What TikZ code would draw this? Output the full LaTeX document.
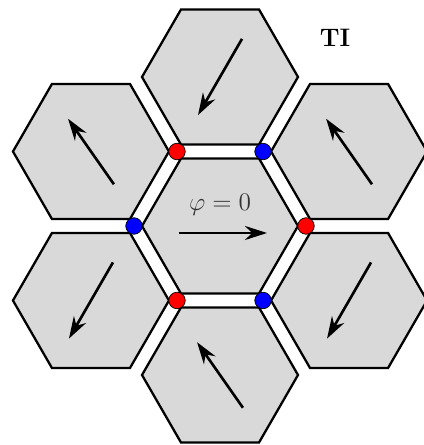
\documentclass[tikz,border=0pt]{standalone}
\usepackage{tikz}
\usetikzlibrary{shapes.geometric,arrows.meta,calc}
\definecolor{cCell}{RGB}{217,217,217}
\definecolor{cRedDot}{RGB}{255,0,0}
\definecolor{cBlueDot}{RGB}{0,0,255}
\tikzset{
  hexcell/.style={regular polygon,regular polygon sides=6,draw=black,fill=cCell,
                  line width=1.3pt,minimum size=3.12cm,inner sep=0pt,outer sep=0pt},
  spin/.style={-{Stealth[length=0.44cm,width=0.28cm]},line width=1.5pt},
  dotbase/.style={circle,draw=black,line width=0.4pt,minimum size=0.33cm,inner sep=0pt},
  reddot/.style={dotbase,fill=cRedDot},
  bluedot/.style={dotbase,fill=cBlueDot}
}

\begin{document}
\begin{tikzpicture}
  \useasboundingbox (0,0) rectangle (8.46,8.90);

  \node[hexcell] (mid) at (4.40,4.38) {};

  % the six neighbouring cells
  \foreach \ang/\nm in {90/top,150/ul,210/ll,270/bot,330/lr,30/ur}
    \node[hexcell] (\nm) at ($(mid)+(\ang:2.98)$) {};

  % corner dots of the central cell
  \foreach \ang/\nm/\sty in {0/dR/reddot,60/dTR/bluedot,120/dTL/reddot,
                             180/dL/bluedot,240/dBL/reddot,300/dBR/bluedot}
    \node[\sty] (\nm) at ($(mid)+(\ang:1.72)$) {};

  % moments
  \draw[spin] ($(mid)+(-0.82,-0.14)$) -- ($(mid)+(0.94,-0.14)$);
  \node[font=\Large,text=black!80] (phi) at ($(mid)+(0,0.42)$) {$\varphi=0$};

  \foreach \nm in {top,ll,lr}
    \draw[spin] ($(\nm)+(60:0.88)$) -- ($(\nm)+(240:0.88)$);
  \foreach \nm in {ul,ur,bot}
    \draw[spin] ($(\nm)+(305:0.8)$) -- ($(\nm)+(125:0.8)$);

  \node[font=\Large\bfseries] (lbl) at (6.70,8.14) {TI};

\end{tikzpicture}
\end{document}
